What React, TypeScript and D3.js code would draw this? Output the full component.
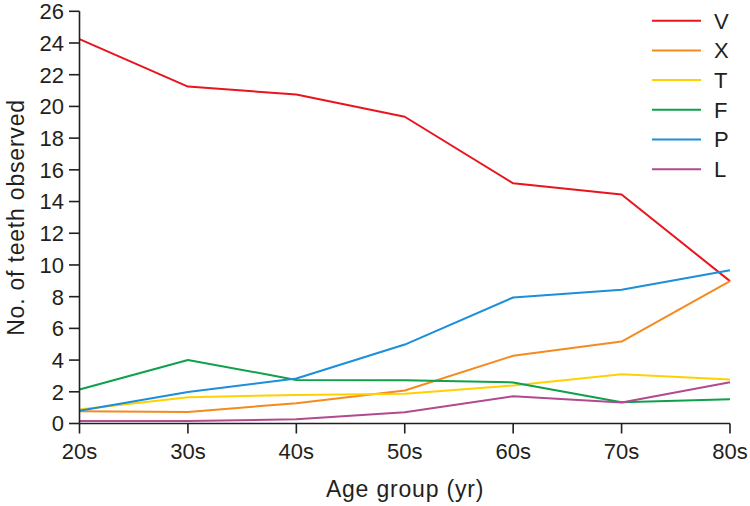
import { line, scaleLinear, scalePoint } from 'd3'

const ageGroups = ['20s', '30s', '40s', '50s', '60s', '70s', '80s']
const yTicks = [0, 2, 4, 6, 8, 10, 12, 14, 16, 18, 20, 22, 24, 26]

const seriesV = [24.25, 21.25, 20.75, 19.35, 15.15, 14.45, 8.98]
const seriesX = [0.78, 0.73, 1.28, 2.08, 4.27, 5.17, 8.98]
const seriesT = [0.88, 1.66, 1.8, 1.87, 2.4, 3.11, 2.78]
const seriesF = [2.14, 4.01, 2.75, 2.73, 2.59, 1.34, 1.53]
const seriesP = [0.8, 1.99, 2.84, 4.98, 7.95, 8.43, 9.67]
const seriesL = [0.15, 0.15, 0.27, 0.71, 1.72, 1.32, 2.6]

const series = [
  { name: 'V', values: seriesV, color: '#e8151f' },
  { name: 'X', values: seriesX, color: '#f58a1f' },
  { name: 'T', values: seriesT, color: '#ffd100' },
  { name: 'F', values: seriesF, color: '#0ea04b' },
  { name: 'P', values: seriesP, color: '#1b8fd9' },
  { name: 'L', values: seriesL, color: '#b14a8e' },
]

const axisColor = '#231f20'
const font = '"Liberation Sans", Arial, Helvetica, sans-serif'

export default function App() {
  const width = 750
  const height = 506
  const xScale = scalePoint<string>().domain(ageGroups).range([79.5, 730])
  const yScale = scaleLinear().domain([0, 26]).range([423.5, 11.3])
  const baseY = yScale(0)

  return (
    <svg
      width={width}
      height={height}
      viewBox={`0 0 ${width} ${height}`}
      style={{ position: 'absolute', left: 0, top: 0, background: '#fff' }}
      fontFamily={font}
    >
      <rect width={width} height={height} fill="#ffffff" />

      {series.map((s) => {
        const path = line<number>()
          .x((_, i) => xScale(ageGroups[i]) ?? 0)
          .y((v) => yScale(v))(s.values)
        return (
          <path key={s.name} d={path ?? ''} fill="none" stroke={s.color} strokeWidth="2" strokeLinejoin="round" />
        )
      })}

      {/* y axis */}
      <line x1={79.5} x2={79.5} y1={yScale(26)} y2={baseY} stroke={axisColor} strokeWidth="1.6" />
      {yTicks.map((t) => (
        <g key={t}>
          <line x1={69} x2={79.5} y1={yScale(t)} y2={yScale(t)} stroke={axisColor} strokeWidth="1.6" />
          <text x={64} y={yScale(t)} dy="0.36em" textAnchor="end" fontSize="22" fill={axisColor}>
            {t}
          </text>
        </g>
      ))}

      {/* x axis */}
      <line x1={79.5} x2={730} y1={baseY} y2={baseY} stroke={axisColor} strokeWidth="1.6" />
      {ageGroups.map((g) => (
        <g key={g}>
          <line x1={xScale(g)} x2={xScale(g)} y1={baseY} y2={baseY + 10} stroke={axisColor} strokeWidth="1.6" />
          <text x={xScale(g)} y={459} textAnchor="middle" fontSize="22" fill={axisColor}>
            {g}
          </text>
        </g>
      ))}

      <text x={405} y={497} textAnchor="middle" fontSize="23" letterSpacing="0.8" fill={axisColor}>
        Age group (yr)
      </text>
      <text
        transform="translate(24, 217.5) rotate(-90)"
        textAnchor="middle"
        fontSize="23"
        letterSpacing="0.8"
        fill={axisColor}
      >
        No. of teeth observed
      </text>

      {/* legend */}
      {series.map((s, i) => {
        const y = 20.7 + i * 29.7
        return (
          <g key={s.name}>
            <line x1={652} x2={701} y1={y} y2={y} stroke={s.color} strokeWidth="2" />
            <text x={714} y={y} dy="0.36em" fontSize="22" fill={axisColor}>
              {s.name}
            </text>
          </g>
        )
      })}
    </svg>
  )
}
